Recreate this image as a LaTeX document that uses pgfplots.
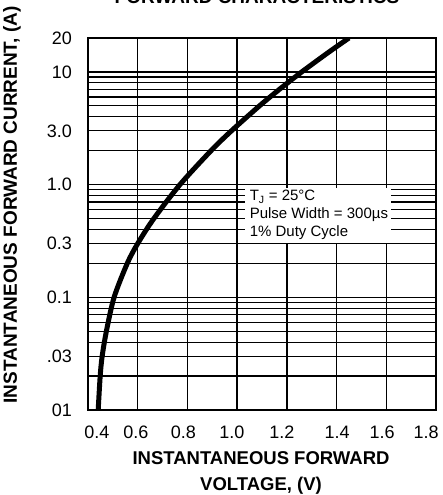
\documentclass[border=0pt]{standalone}
\usepackage{fontspec}
\setmainfont{Liberation Sans}
\usepackage{pgfplots}
\pgfplotsset{compat=1.18}

\begin{document}
\begin{tikzpicture}
\begin{axis}[
    at={(0pt,0pt)}, anchor=south west,
    scale only axis,
    width=348pt, height=372pt,
    xmin=0.4, xmax=1.8,
    ymin=0.01, ymax=20,
    ymode=log,
    xtick={0.4,0.6,0.8,1.0,1.2,1.4,1.6,1.8},
    xticklabels={},
    % labels sit a little off the grid lines in the original
    extra x ticks={0.436,0.593,0.784,0.979,1.180,1.402,1.583,1.760},
    extra x tick labels={0.4,0.6,0.8,1.0,1.2,1.4,1.6,1.8},
    extra x tick style={grid=none, major tick length=0pt},
    ytick={0.01,0.03,0.1,0.3,1,3,10,20},
    yticklabels={01,.03,0.1,0.3,1.0,3.0,10,20},
    minor ytick={0.02,0.04,0.05,0.06,0.07,0.08,0.09,
                 0.2,0.4,0.5,0.6,0.7,0.8,0.9,
                 2,4,5,6,7,8,9},
    grid=both,
    major grid style={black, line width=1.3pt},
    minor grid style={black, line width=1.3pt},
    axis line style={black, line width=2.2pt},
    major tick length=0pt, minor tick length=0pt,
    tick label style={font=\fontsize{18}{18}\selectfont},
    xticklabel style={anchor=base, yshift=-28pt},
    yticklabel style={anchor=east, inner sep=0pt, xshift=-16pt},
]
\addplot[black, line width=5pt, smooth] coordinates {
    (0.441,0.010) (0.449,0.020) (0.457,0.030) (0.474,0.050)
    (0.505,0.100) (0.558,0.200) (0.600,0.300) (0.665,0.500)
    (0.770,1.00) (0.895,2.00) (0.977,3.00) (1.090,5.00)
    (1.170,7.00) (1.260,10.0) (1.369,15.0) (1.450,20.0)
};
\fill[white] (axis cs:1.03,0.305) rectangle (axis cs:1.62,0.93);
\node[anchor=north west, align=left, inner sep=0pt,
      font=\fontsize{15}{18}\selectfont]
    at (axis cs:1.05,0.89)
    {T\textsubscript{J} = 25°C\\Pulse Width = 300µs\\1\% Duty Cycle};
\end{axis}
\node[anchor=base, font=\bfseries\fontsize{19}{19}\selectfont]
    at (169pt,406pt) {FORWARD CHARACTERISTICS};
\node[rotate=90, font=\bfseries\fontsize{19}{19}\selectfont]
    at (-76pt,205pt) {INSTANTANEOUS FORWARD CURRENT, (A)};
\node[anchor=base, font=\bfseries\fontsize{18.5}{18.5}\selectfont]
    at (173pt,-55pt) {INSTANTANEOUS FORWARD};
\node[anchor=base, font=\bfseries\fontsize{18.5}{18.5}\selectfont]
    at (173pt,-80pt) {VOLTAGE, (V)};
\pgfresetboundingbox
\useasboundingbox (-88pt,-85pt) rectangle (355pt,410pt);
\end{tikzpicture}
\end{document}
